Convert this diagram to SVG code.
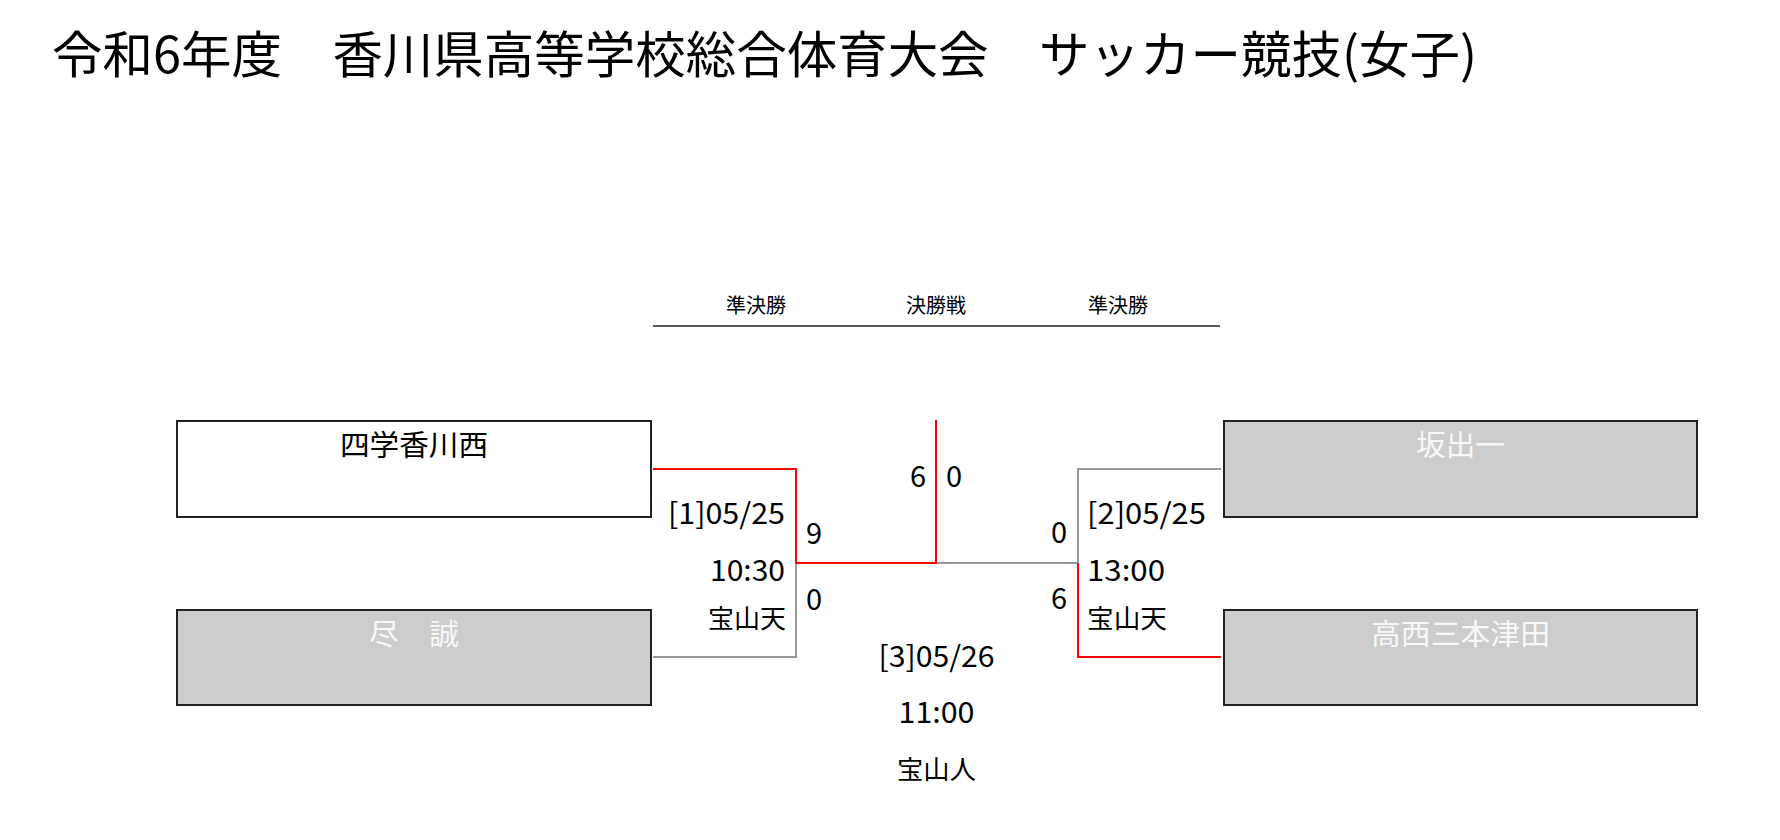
<svg xmlns="http://www.w3.org/2000/svg" width="1780" height="840" viewBox="0 0 1780 840">
<style>
text{font-family:"Noto Sans CJK JP","Noto Sans",sans-serif;fill:#000}
.title{font-size:50px}
.hdr{font-size:20px;text-anchor:middle}
.name{font-size:29px;text-anchor:middle}
.wn{fill:#f8f8f8}
.box{stroke:#222;stroke-width:2}
.win{fill:#fff}
.lose{fill:#cccccc}
.num{font-size:29px}
.ven{font-size:26px}
.red{fill:none;stroke:#ff0000;stroke-width:2}
.gray{fill:none;stroke:#999999;stroke-width:2}
.end{text-anchor:end}
.mid{text-anchor:middle}
</style>
<rect width="1780" height="840" fill="#fff"/>
<text class="title" x="52" y="72.5" textLength="1425" lengthAdjust="spacingAndGlyphs">令和6年度　香川県高等学校総合体育大会　サッカー競技(女子)</text>
<g id="header">
<text class="hdr" x="756" y="313">準決勝</text>
<text class="hdr" x="936" y="313">決勝戦</text>
<text class="hdr" x="1118" y="313">準決勝</text>
<line x1="653" y1="326" x2="1220" y2="326" stroke="#222" stroke-width="1.6"/>
</g>
<g id="connectors">
<path class="gray" d="M653 657H796V563"/>
<path class="gray" d="M1221 469H1078V563H936"/>
<path class="red" d="M653 469H796V563H936V420"/>
<path class="red" d="M1221 657H1078V563"/>
</g>
<g id="team-yongaku">
<rect class="box win" x="177" y="421" width="474" height="96"/>
<text class="name" x="414" y="456" textLength="148" lengthAdjust="spacingAndGlyphs">四学香川西</text>
</g>
<g id="team-jinsei">
<rect class="box lose" x="177" y="610" width="474" height="95"/>
<text class="name wn" x="414" y="645" textLength="90" lengthAdjust="spacingAndGlyphs">尽　誠</text>
</g>
<g id="team-sakaide">
<rect class="box lose" x="1224" y="421" width="473" height="96"/>
<text class="name wn" x="1460.5" y="456" textLength="89" lengthAdjust="spacingAndGlyphs">坂出一</text>
</g>
<g id="team-takamatsunishi">
<rect class="box lose" x="1224" y="610" width="473" height="95"/>
<text class="name wn" x="1460.5" y="645" textLength="179" lengthAdjust="spacingAndGlyphs">高西三本津田</text>
</g>
<g id="match1">
<text class="num end" x="785" y="524" textLength="117" lengthAdjust="spacingAndGlyphs">[1]05/25</text>
<text class="num end" x="785" y="581" textLength="75" lengthAdjust="spacingAndGlyphs">10:30</text>
<text class="ven end" x="786" y="628" textLength="78" lengthAdjust="spacingAndGlyphs">宝山天</text>
<text class="num" x="806" y="543.5">9</text>
<text class="num" x="806" y="610">0</text>
</g>
<g id="match2">
<text class="num" x="1087" y="524" textLength="119" lengthAdjust="spacingAndGlyphs">[2]05/25</text>
<text class="num" x="1087" y="581" textLength="78" lengthAdjust="spacingAndGlyphs">13:00</text>
<text class="ven" x="1087" y="628" textLength="80" lengthAdjust="spacingAndGlyphs">宝山天</text>
<text class="num end" x="1067" y="543">0</text>
<text class="num end" x="1067" y="609">6</text>
</g>
<g id="final">
<text class="num end" x="926" y="487">6</text>
<text class="num" x="946" y="487">0</text>
<text class="num mid" x="936.5" y="667" textLength="116" lengthAdjust="spacingAndGlyphs">[3]05/26</text>
<text class="num mid" x="936.5" y="723" textLength="76" lengthAdjust="spacingAndGlyphs">11:00</text>
<text class="ven mid" x="936.5" y="779" textLength="79" lengthAdjust="spacingAndGlyphs">宝山人</text>
</g>
</svg>
